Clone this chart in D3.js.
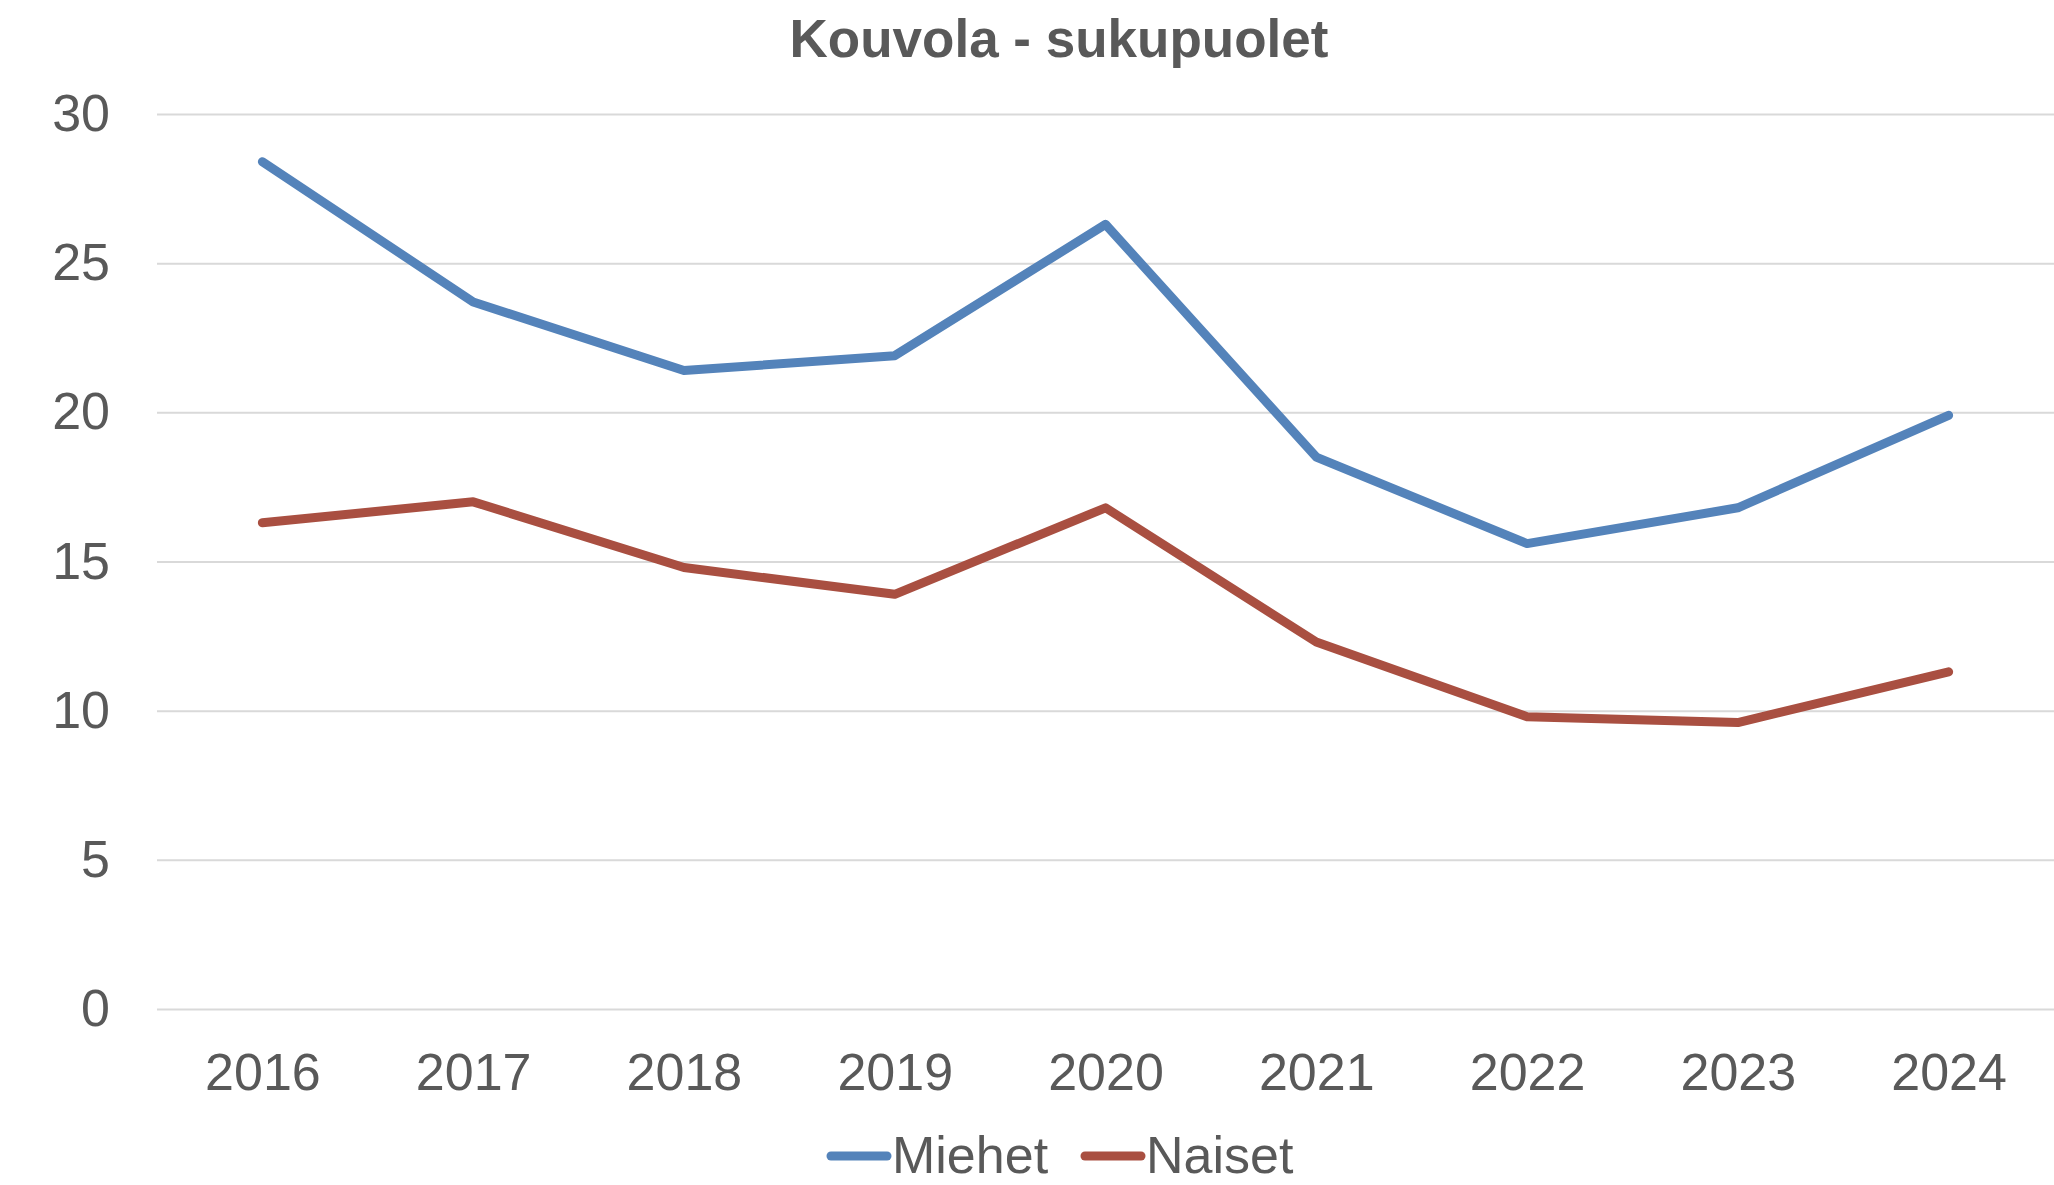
<!DOCTYPE html>
<html>
<head>
<meta charset="utf-8">
<script src="https://cdn.jsdelivr.net/npm/d3@7"></script>
<style>
  html, body { margin: 0; padding: 0; background: #fff; }
  svg { display: block; font-family: "Liberation Sans", Arial, sans-serif; }
</style>
</head>
<body>
<svg id="viewport" width="2054" height="1185"></svg>
<script>
// chart data
const years = ['2016', '2017', '2018', '2019', '2020', '2021', '2022', '2023', '2024'];
const miehet = [28.4, 23.7, 21.4, 21.9, 26.3, 18.5, 15.6, 16.8, 19.9];
const naiset = [16.3, 17.0, 14.8, 13.9, 16.8, 12.3, 9.8, 9.6, 11.3];
const yTicks = [0, 5, 10, 15, 20, 25, 30];
const seriesNames = ['Miehet', 'Naiset'];
const title = 'Kouvola - sukupuolet';

const colours = {
  Miehet: '#5483ba',
  Naiset: '#a94f41',
};
const textColour = '#595959';

const plot = { left: 157, right: 2054, top: 114, bottom: 1009 };

const svg = d3.select('#viewport');

const x = d3.scalePoint()
  .domain(years)
  .range([plot.left, plot.right])
  .padding(0.5);

const y = d3.scaleLinear()
  .domain([0, 30])
  .range([plot.bottom, plot.top]);

// horizontal gridlines + y labels
const yAxis = svg.append('g')
  .attr('transform', `translate(${plot.left},0)`)
  .call(d3.axisLeft(y)
    .tickValues(yTicks)
    .tickSize(-(plot.right - plot.left))
    .tickPadding(47));
yAxis.select('.domain').remove();
yAxis.selectAll('.tick line')
  .attr('stroke', '#d9d9d9')
  .attr('stroke-width', 2);
yAxis.selectAll('.tick text')
  .attr('fill', textColour)
  .style('font-size', '52px')
  .style('font-family', '"Liberation Sans", Arial, sans-serif');

// x labels
const xAxis = svg.append('g')
  .attr('transform', `translate(0,${plot.bottom})`)
  .call(d3.axisBottom(x).tickSize(0).tickPadding(44));
xAxis.select('.domain').remove();
xAxis.selectAll('.tick text')
  .attr('fill', textColour)
  .style('font-size', '52px')
  .style('font-family', '"Liberation Sans", Arial, sans-serif');

// lines
const line = d3.line()
  .x((d, i) => x(years[i]))
  .y((d) => y(d));

[miehet, naiset].forEach((values, i) => {
  svg.append('path')
    .datum(values)
    .attr('d', line)
    .attr('fill', 'none')
    .attr('stroke', colours[seriesNames[i]])
    .attr('stroke-width', 9)
    .attr('stroke-linecap', 'round')
    .attr('stroke-linejoin', 'round');
});

// title
svg.append('text')
  .attr('x', 1059)
  .attr('y', 57)
  .attr('text-anchor', 'middle')
  .attr('fill', textColour)
  .style('font-size', '53px')
  .style('font-weight', 'bold')
  .text(title);

// legend
const legend = svg.append('g').attr('class', 'legend');
const legendX = [831, 1085];
seriesNames.forEach((name, i) => {
  const item = legend.append('g')
    .attr('transform', `translate(${legendX[i]},1156)`);
  item.append('line')
    .attr('x1', 0)
    .attr('x2', 56)
    .attr('stroke', colours[name])
    .attr('stroke-width', 9)
    .attr('stroke-linecap', 'round');
  item.append('text')
    .attr('x', 61)
    .attr('y', 17)
    .attr('fill', textColour)
    .style('font-size', '52px')
    .text(name);
});
</script>
</body>
</html>
